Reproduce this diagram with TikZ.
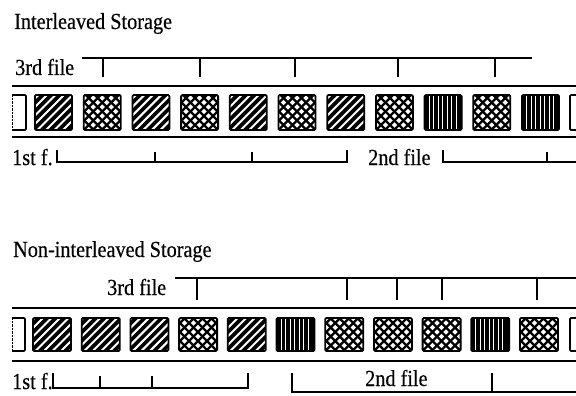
\documentclass[tikz,border=0pt]{standalone}
\usepackage{fontspec}
\setmainfont{Liberation Serif}[FakeStretch=0.88,FakeBold=0.4]
\begin{document}
\begin{tikzpicture}[
    x=1pt, y=-1pt,
    every node/.style={font=\fontsize{23}{25}\selectfont, inner sep=0pt, anchor=base west},
    banda/.style={line width=2.2pt},
    regla/.style={line width=1.6pt},
    caja/.style={line width=1.8pt, rounded corners=1.2pt},
    rayas/.style={caja, fill=black, path picture={
        \foreach \d in {-40,-31.5,...,45}
            \draw[white,line width=2pt]
                ([xshift=\d pt]path picture bounding box.south west) -- ++(45:60pt);}},
    cruz/.style={caja, fill=white, path picture={
        \foreach \d in {-45,-36,...,45} {
            \draw[black,line width=2.3pt]
                ([xshift=\d pt]path picture bounding box.south west) -- ++(45:60pt);
            \draw[black,line width=2.3pt]
                ([xshift=\d pt]path picture bounding box.south east) -- ++(135:60pt);}}},
    barras/.style={caja, fill=black, path picture={
        \foreach \d in {4.5,9,...,34}
            \draw[white,line width=0.9pt]
                ([xshift=\d pt]path picture bounding box.south west) -- ++(90:40pt);}}]
    \useasboundingbox (0,0) rectangle (576,396);
    \clip (0,0) rectangle (576,396);

    % Almacenamiento intercalado.
    \node (titInter) at (14,29) {Interleaved Storage};
    \node (tercA) at (15,75) {3rd file};
    \draw[regla,line width=1.9pt] (82,58) -- (532,58);
    \foreach \x in {103,200,295,398,495}
        \draw[regla] (\x,58) -- (\x,77);

    % Banda de bloques (intercalada).
    \draw[banda] (12,86) -- (576,86) (12,137) -- (576,137);
    \draw[caja] (12,95) -- (26,95) -- (26,130) -- (12,130);
    \draw[densely dotted,thin] (12,95) -- (12,130);
    \foreach \t [count=\i from 0] in
        {rayas,cruz,rayas,cruz,rayas,cruz,rayas,cruz,barras,cruz,barras}
        \draw[\t] (35+48.7*\i,95) rectangle ++(37,35);
    \draw[caja] (580,95) -- (570,95) -- (570,130) -- (580,130);

    % Primer y segundo archivo.
    \node (primA) at (12,165) {1st f.};
    \draw[regla] (57,150) -- (57,162) -- (347,162) -- (347,150);
    \foreach \x in {155,252}
        \draw[regla] (\x,162) -- (\x,152);
    \node (segA) at (368,165) {2nd file};
    \draw[regla] (443,150) -- (443,162) -- (576,162);
    \draw[regla] (547,162) -- (547,152);

    % Almacenamiento no intercalado.
    \node (titNoInter) at (13,257) {Non-interleaved Storage};
    \node (tercB) at (107,295) {3rd file};
    \draw[regla,line width=1.9pt] (175,278) -- (576,278);
    \foreach \x in {197,347,397,442,537}
        \draw[regla] (\x,278) -- (\x,300);

    % Banda de bloques (no intercalada).
    \draw[banda] (12,308) -- (576,308) (12,361) -- (576,361);
    \draw[caja] (12,318) -- (25,318) -- (25,351) -- (12,351);
    \draw[densely dotted,thin] (12,318) -- (12,351);
    \foreach \t [count=\i from 0] in
        {rayas,rayas,rayas,cruz,rayas,barras,cruz,cruz,cruz,barras,cruz}
        \draw[\t] (33+48.7*\i,318) rectangle ++(38,33);
    \draw[caja] (580,318) -- (570,318) -- (570,351) -- (580,351);

    % Primer y segundo archivo.
    \node (primB) at (12,389) {1st f.};
    \draw[regla] (53,373) -- (53,388) -- (248,388) -- (248,373);
    \foreach \x in {100,152}
        \draw[regla] (\x,388) -- (\x,376);
    \node (segB) at (365,386) {2nd file};
    \draw[regla] (292,373) -- (292,392) -- (576,392);
    \draw[regla] (492,373) -- (492,392);
\end{tikzpicture}
\end{document}
